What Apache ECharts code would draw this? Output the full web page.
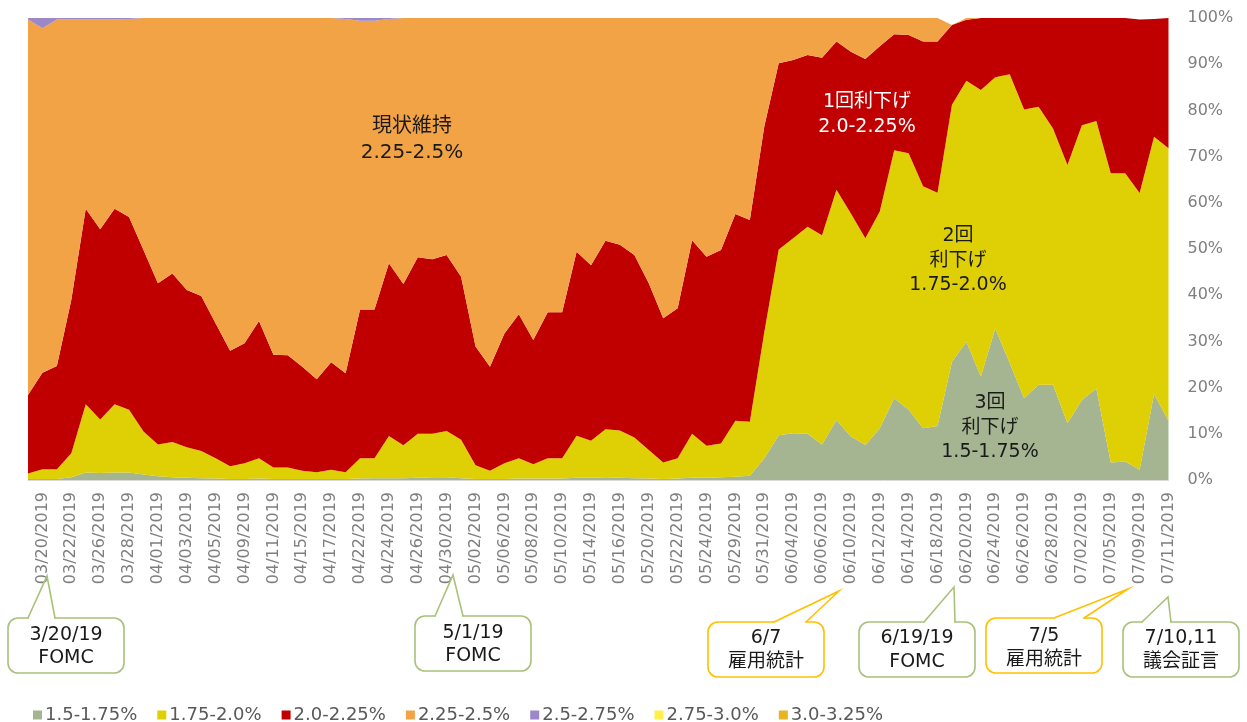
<!DOCTYPE html>
<html>
<head>
<meta charset="utf-8">
<script src="https://cdn.jsdelivr.net/npm/echarts@6/dist/echarts.min.js"></script>
<style>
html,body{margin:0;padding:0;background:#fff;}
#c{width:1247px;height:722px;}
</style>
</head>
<body>
<div id="c"></div>
<script>
// Categories: business days 03/19/2019 - 07/11/2019
const dates = [
  '03/19/2019','03/20/2019','03/21/2019','03/22/2019','03/25/2019','03/26/2019','03/27/2019','03/28/2019','03/29/2019',
  '04/01/2019','04/02/2019','04/03/2019','04/04/2019','04/05/2019','04/08/2019','04/09/2019','04/10/2019','04/11/2019','04/12/2019',
  '04/15/2019','04/16/2019','04/17/2019','04/18/2019','04/22/2019','04/23/2019','04/24/2019','04/25/2019','04/26/2019',
  '04/29/2019','04/30/2019','05/01/2019','05/02/2019','05/03/2019','05/06/2019','05/07/2019','05/08/2019','05/09/2019','05/10/2019',
  '05/13/2019','05/14/2019','05/15/2019','05/16/2019','05/17/2019','05/20/2019','05/21/2019','05/22/2019','05/23/2019','05/24/2019',
  '05/28/2019','05/29/2019','05/30/2019','05/31/2019','06/03/2019','06/04/2019','06/05/2019','06/06/2019','06/07/2019',
  '06/10/2019','06/11/2019','06/12/2019','06/13/2019','06/14/2019','06/17/2019','06/18/2019','06/19/2019','06/20/2019','06/21/2019',
  '06/24/2019','06/25/2019','06/26/2019','06/27/2019','06/28/2019','07/01/2019','07/02/2019','07/03/2019','07/05/2019',
  '07/08/2019','07/09/2019','07/10/2019','07/11/2019'
];

const seriesNames = ['1.5-1.75%','1.75-2.0%','2.0-2.25%','2.25-2.5%','2.5-2.75%','2.75-3.0%','3.0-3.25%'];
const seriesColors = ['#A5B592','#DFCF05','#C00000','#F2A346','#9C87C9','#FFEF4A','#E6B520'];

const r150_175 = [
  0.2,0.2,0.2,0.6,1.6,1.5,1.6,1.6,1.2,0.8,0.6,0.5,0.4,0.3,0.2,0.2,0.3,0.2,0.2,0.2,
  0.2,0.2,0.2,0.3,0.4,0.4,0.4,0.5,0.6,0.6,0.4,0.2,0.2,0.2,0.3,0.3,0.3,0.3,0.5,0.5,
  0.6,0.5,0.4,0.3,0.2,0.3,0.5,0.5,0.6,0.7,0.9,4.7,9.7,10.1,10.0,7.7,13.0,9.4,7.6,11.2,
  17.7,15.2,11.2,11.7,25.6,29.9,22.4,32.8,25.3,17.7,20.6,20.6,12.3,17.3,19.8,3.8,4.0,2.2,18.6,12.8
];
const r175_200 = [
  1.2,2.1,2.1,5.2,14.8,11.6,14.8,13.6,9.3,6.9,7.6,6.6,5.9,4.4,2.8,3.4,4.4,2.5,2.5,1.8,
  1.5,2.0,1.5,4.4,4.3,9.1,7.1,9.5,9.4,10.0,8.3,3.0,1.8,3.4,4.4,3.1,4.4,4.4,9.1,8.0,
  10.4,10.2,8.8,6.2,3.6,4.4,9.5,6.9,7.3,12.1,11.7,27.3,40.2,42.2,44.8,45.3,49.8,48.3,44.7,46.9,
  53.7,55.5,52.4,50.5,55.6,56.5,62.0,54.4,62.5,62.5,60.2,55.5,55.9,59.5,57.9,62.6,62.4,59.9,55.7,59.0
];
const r200_225 = [
  17.0,20.9,22.4,33.2,42.3,41.2,42.3,41.7,39.3,34.9,36.5,34.0,33.5,29.2,25.0,26.0,29.7,24.4,24.3,22.5,
  20.1,23.3,21.4,32.2,32.2,37.4,34.9,38.2,37.8,38.1,35.3,25.7,22.5,28.1,31.2,26.9,31.6,31.6,39.8,38.0,
  40.8,40.2,39.5,36.1,31.2,32.5,41.9,40.9,41.9,44.8,43.7,44.5,40.3,38.6,37.2,38.4,32.1,35.0,38.8,35.8,
  25.1,25.6,31.3,32.7,17.3,13.2,15.6,12.8,12.2,19.8,19.2,23.9,31.8,23.2,22.3,33.6,33.6,37.6,25.5,28.2
];
const r225_250 = [
  81.3,74.6,75.0,60.7,41.0,45.4,41.0,42.9,50.2,57.4,55.3,58.9,60.2,66.1,72.0,70.4,65.6,72.9,73.0,75.5,
  78.2,74.5,76.7,62.5,62.5,52.9,57.6,51.8,52.2,51.3,56.0,71.1,75.5,68.3,64.1,69.7,63.7,63.7,50.6,53.5,
  48.2,49.1,51.3,57.4,65.0,62.8,48.1,51.7,50.2,42.4,43.7,23.5,9.8,9.1,8.0,8.6,5.1,7.3,8.9,6.1,
  3.5,3.7,5.1,5.1,0,0.4,0,0,0,0,0,0,0,0,0,0,0,0,0,0
];
const r250_275 = [
  0.3,2.2,0.3,0.3,0.3,0.3,0.3,0.2,0,0,0,0,0,0,0,0,0,0,0,0,
  0,0,0.2,0.6,0.6,0.2,0,0,0,0,0,0,0,0,0,0,0,0,0,0,
  0,0,0,0,0,0,0,0,0,0,0,0,0,0,0,0,0,0,0,0,
  0,0,0,0,0,0,0,0,0,0,0,0,0,0,0,0,0,0,0,0
];
const r275_300 = new Array(dates.length).fill(0);
const r300_325 = new Array(dates.length).fill(0);

const yTicks = [0,10,20,30,40,50,60,70,80,90,100];

const allData = [r150_175, r175_200, r200_225, r225_250, r250_275, r275_300, r300_325];

const FONT = "'DejaVu Sans', 'Noto Sans CJK JP', sans-serif";

const chart = echarts.init(document.getElementById('c'), null, {renderer: 'canvas'});

const series = seriesNames.map((name, k) => ({
  name: name,
  type: 'line',
  stack: 'total',
  data: allData[k],
  symbol: 'none',
  showSymbol: false,
  lineStyle: {width: 0},
  itemStyle: {color: seriesColors[k]},
  areaStyle: {color: seriesColors[k], opacity: 1},
  emphasis: {disabled: true},
  silent: true
}));

function callout(x, y, w, h, bl, br, tipx, tipy, color, lines, ly) {
  return {
    type: 'group',
    z: 100,
    children: [
      {type: 'rect', z: 100, shape: {x: x, y: y, width: w, height: h, r: 10},
       style: {fill: '#fff', stroke: color, lineWidth: 1.6}},
      {type: 'line', z: 101, shape: {x1: bl + 1, y1: y, x2: br - 1, y2: y},
       style: {stroke: '#fff', lineWidth: 3}},
      {type: 'polyline', z: 102, shape: {points: [[bl, y], [tipx, tipy], [br, y]]},
       style: {stroke: color, lineWidth: 1.6, fill: null}},
      {type: 'text', z: 103, style: {text: lines[0], x: x + w / 2, y: ly[0], align: 'center', verticalAlign: 'middle',
        textAlign: 'center', textVerticalAlign: 'middle', font: '19px ' + FONT, fill: '#1a1a1a'}},
      {type: 'text', z: 103, style: {text: lines[1], x: x + w / 2, y: ly[1], align: 'center', verticalAlign: 'middle',
        textAlign: 'center', textVerticalAlign: 'middle', font: '19px ' + FONT, fill: '#1a1a1a'}}
    ]
  };
}

function label(lines, cx, cy, lh, color, size) {
  const top = cy - lh * (lines.length - 1) / 2;
  return lines.map((t, i) => ({
    type: 'text', z: 100,
    style: {text: t, x: cx, y: top + i * lh, align: 'center', verticalAlign: 'middle',
      textAlign: 'center', textVerticalAlign: 'middle', font: size + 'px ' + FONT, fill: color}
  }));
}

const GREEN = '#A9C17A';
const GOLD = '#FFC000';

const graphics = [].concat(
  label(['現状維持', '2.25-2.5%'], 412, 140, 26, '#1a1a1a', 20),
  label(['1回利下げ', '2.0-2.25%'], 867, 115, 25, '#ffffff', 19),
  label(['2回', '利下げ', '1.75-2.0%'], 958, 261, 24.5, '#1a1a1a', 19),
  label(['3回', '利下げ', '1.5-1.75%'], 990, 428, 24.5, '#1a1a1a', 19),
  [
    callout(8, 618, 116, 55, 28, 55, 47, 576, GREEN, ['3/20/19', 'FOMC'], [635, 658]),
    callout(415, 616, 116, 55, 435, 463, 453, 575, GREEN, ['5/1/19', 'FOMC'], [633, 656]),
    callout(708, 622, 116, 55, 774, 806, 839, 591, GOLD, ['6/7', '雇用統計'], [638, 662]),
    callout(859, 622, 116, 55, 924, 955, 954, 587, GREEN, ['6/19/19', 'FOMC'], [638, 662]),
    callout(986, 618, 116, 55, 1054, 1084, 1128, 589, GOLD, ['7/5', '雇用統計'], [636, 660]),
    callout(1123, 622, 116, 55, 1142, 1171, 1168, 597, GREEN, ['7/10,11', '議会証言'], [638, 662])
  ]
);

const option = {
  animation: false,
  backgroundColor: '#ffffff',
  textStyle: {fontFamily: FONT},
  grid: {left: 28, right: 78.5, top: 18, bottom: 242, containLabel: false},
  legend: {
    data: seriesNames,
    left: 28, top: 701,
    icon: 'rect', itemWidth: 9, itemHeight: 9, itemGap: 20,
    selectedMode: false,
    textStyle: {color: '#595959', fontSize: 18, fontFamily: FONT, padding: [0, 0, 0, -2]}
  },
  xAxis: {
    type: 'category',
    data: dates,
    boundaryGap: false,
    axisLine: {show: true, lineStyle: {color: '#d9d9d9', width: 1}},
    axisTick: {show: false},
    splitLine: {show: false},
    axisLabel: {
      rotate: 90,
      interval: function (i) { return i % 2 === 1; },
      color: '#7f7f7f',
      fontSize: 16,
      fontFamily: FONT,
      margin: 12
    }
  },
  yAxis: {
    type: 'value',
    position: 'right',
    min: yTicks[0], max: yTicks[yTicks.length - 1], interval: 10,
    axisLine: {show: false},
    axisTick: {show: false},
    splitLine: {show: false},
    axisLabel: {
      formatter: '{value}%',
      color: '#7f7f7f',
      fontSize: 16,
      fontFamily: FONT,
      margin: 19
    }
  },
  series: series,
  graphic: graphics
};

chart.setOption(option);
</script>
</body>
</html>
